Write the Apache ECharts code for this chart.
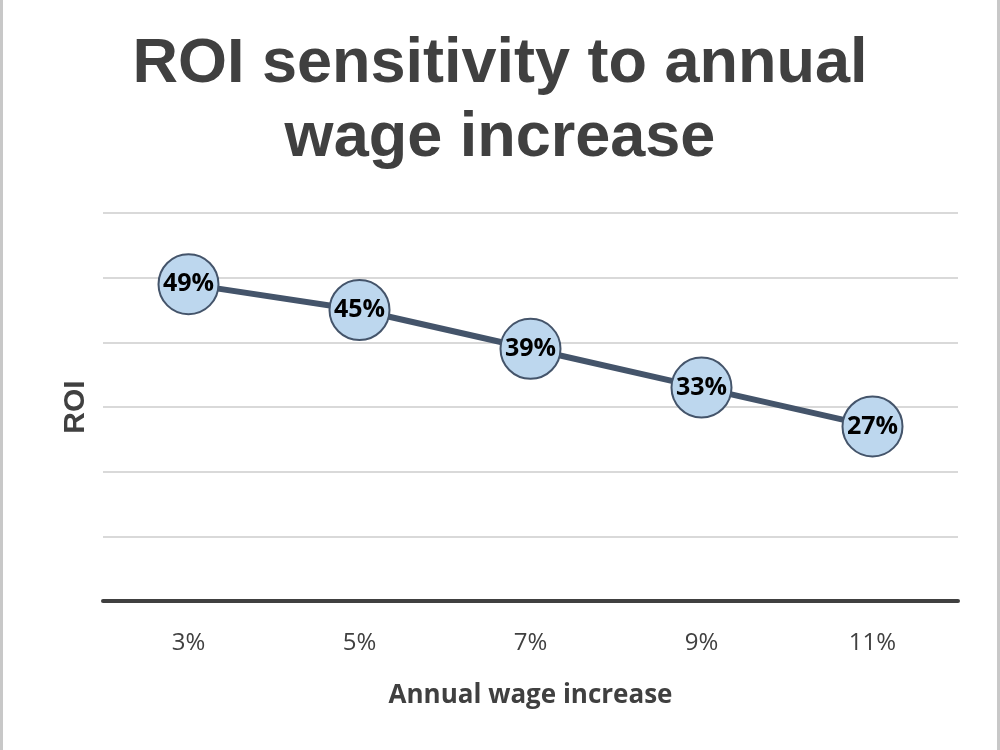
<!DOCTYPE html>
<html>
<head>
<meta charset="utf-8">
<script src="https://cdn.jsdelivr.net/npm/echarts@6/dist/echarts.min.js"></script>
<style>
  html, body { margin: 0; padding: 0; background: #fff; }
  #main {
    width: 1000px; height: 750px; box-sizing: border-box;
    border-left: 3px solid #c8c8c8; border-right: 3px solid #c8c8c8;
    margin: 0;
  }
</style>
</head>
<body>
<div id="main"></div>
<script>
// chart data
var wageIncrease = ['3%', '5%', '7%', '9%', '11%'];
var roiValues = [49, 45, 39, 33, 27];

var myChart = echarts.init(document.getElementById('main'));

myChart.setOption({
  backgroundColor: '#fff',
  animation: false,
  title: {
    text: 'ROI sensitivity to annual\nwage increase',
    left: 'center',
    top: 23,
    textStyle: {
      fontFamily: 'Liberation Sans',
      fontWeight: 'bold',
      fontSize: 63,
      lineHeight: 74,
      color: '#404040'
    }
  },
  grid: {
    left: 100,
    right: 39,
    top: 213,
    bottom: 149
  },
  xAxis: {
    type: 'category',
    data: wageIncrease,
    name: 'Annual wage increase',
    nameLocation: 'middle',
    nameGap: 82,
    nameTextStyle: {
      fontFamily: 'Open Sans',
      fontWeight: 'bold',
      fontSize: 26,
      color: '#404040'
    },
    axisLine: { lineStyle: { color: '#404040', width: 4 } },
    axisTick: { show: false },
    axisLabel: {
      margin: 30,
      fontFamily: 'Open Sans',
      fontSize: 24,
      color: '#404040'
    }
  },
  yAxis: {
    type: 'value',
    min: 0,
    max: 60,
    interval: 10,
    name: 'ROI',
    nameLocation: 'middle',
    nameGap: 12,
    nameRotate: 90,
    nameTextStyle: {
      fontFamily: 'Liberation Sans',
      fontWeight: 'bold',
      fontSize: 30,
      color: '#404040'
    },
    axisLine: { show: false },
    axisTick: { show: false },
    axisLabel: { show: false },
    splitLine: { lineStyle: { color: '#d9d9d9', width: 2 } }
  },
  series: [
    {
      type: 'line',
      data: roiValues,
      symbol: 'circle',
      symbolSize: 60,
      lineStyle: { color: '#44546a', width: 6 },
      itemStyle: { color: '#bdd7ee', borderColor: '#44546a', borderWidth: 2 },
      label: {
        show: true,
        position: 'inside',
        formatter: function (p) { return p.value + '%'; },
        fontFamily: 'Open Sans',
        fontWeight: 'bold',
        fontSize: 25,
        color: '#000'
      },
      z: 3
    }
  ]
});
</script>
</body>
</html>
